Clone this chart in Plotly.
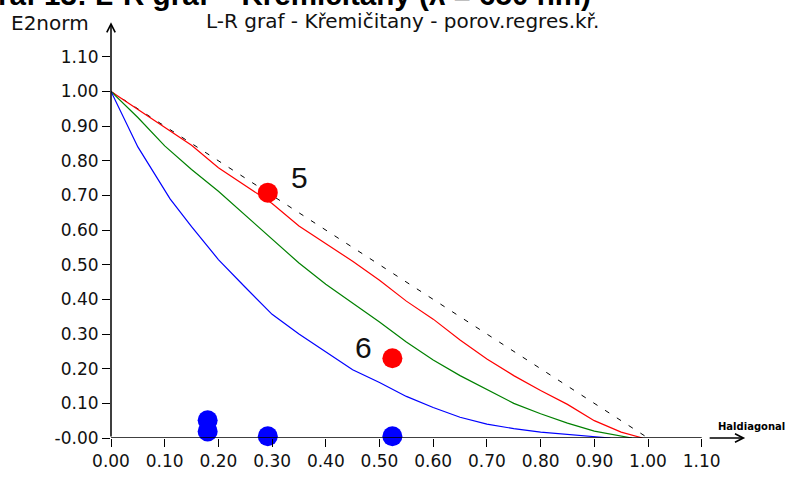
import plotly.graph_objects as go

# ---- data ----
diag_x = [0.0, 1.0]
diag_y = [1.0, 0.0]

red_x = [0, 0.05, 0.1, 0.15, 0.2, 0.25, 0.3, 0.35, 0.4, 0.45, 0.5, 0.55, 0.6, 0.65, 0.7, 0.75, 0.8, 0.85, 0.9, 0.95, 0.99]
red_y = [1.0, 0.948, 0.897, 0.845, 0.78, 0.728, 0.677, 0.612, 0.562, 0.51, 0.455, 0.395, 0.343, 0.283, 0.228, 0.18, 0.137, 0.097, 0.05, 0.017, 0.0]

green_x = [0, 0.05, 0.1, 0.15, 0.2, 0.25, 0.3, 0.35, 0.4, 0.45, 0.5, 0.55, 0.6, 0.65, 0.7, 0.75, 0.8, 0.85, 0.9, 0.95, 0.97]
green_y = [1.0, 0.925, 0.843, 0.775, 0.712, 0.643, 0.575, 0.505, 0.444, 0.39, 0.335, 0.277, 0.225, 0.18, 0.14, 0.1, 0.07, 0.043, 0.02, 0.005, 0.0]

blue_x = [0, 0.025, 0.05, 0.08, 0.11, 0.15, 0.2, 0.25, 0.3, 0.35, 0.4, 0.45, 0.5, 0.55, 0.6, 0.65, 0.7, 0.75, 0.8, 0.85, 0.9, 0.93]
blue_y = [1.0, 0.92, 0.84, 0.765, 0.69, 0.61, 0.515, 0.435, 0.357, 0.3, 0.248, 0.197, 0.16, 0.12, 0.088, 0.06, 0.04, 0.027, 0.017, 0.01, 0.004, 0.0]

red_pts_x = [0.292, 0.524]
red_pts_y = [0.708, 0.23]
red_pts_labels = ["5", "6"]

blue_pts_x = [0.18, 0.18, 0.292, 0.524]
blue_pts_y = [0.051, 0.019, 0.005, 0.005]

x_ticks = [0.0, 0.1, 0.2, 0.3, 0.4, 0.5, 0.6, 0.7, 0.8, 0.9, 1.0, 1.1]
x_ticktext = ["0.00", "0.10", "0.20", "0.30", "0.40", "0.50", "0.60", "0.70", "0.80", "0.90", "1.00", "1.10"]
y_ticks = [0.0, 0.1, 0.2, 0.3, 0.4, 0.5, 0.6, 0.7, 0.8, 0.9, 1.0, 1.1]
y_ticktext = ["-0.00", "0.10", "0.20", "0.30", "0.40", "0.50", "0.60", "0.70", "0.80", "0.90", "1.00", "1.10"]

title_text = "Graf 13: L-R graf – Křemičitany (λ = 650 nm)"
subtitle_text = "L-R graf - Křemičitany - porov.regres.kř."
y_label = "E2norm"
x_label = "Haldiagonal"

# ---- figure ----
W, H = 790, 483
ML, MR, MT, MB = 111, 35, 22, 30
PW, PH = W - ML - MR, H - MT - MB
XSCALE = 537.0  # px per unit
YSCALE = 359.0

fig = go.Figure()

fig.add_trace(go.Scatter(x=diag_x, y=diag_y, mode="lines",
                         line=dict(color="black", width=1, dash="5px,9px"),
                         cliponaxis=False, hoverinfo="skip"))
fig.add_trace(go.Scatter(x=red_x, y=red_y, mode="lines",
                         line=dict(color="#ff0000", width=1.2), cliponaxis=False))
fig.add_trace(go.Scatter(x=green_x, y=green_y, mode="lines",
                         line=dict(color="#008000", width=1.2), cliponaxis=False))
fig.add_trace(go.Scatter(x=blue_x, y=blue_y, mode="lines",
                         line=dict(color="#0000ff", width=1.2), cliponaxis=False))
fig.add_trace(go.Scatter(x=red_pts_x, y=red_pts_y, mode="markers",
                         marker=dict(color="#ff0000", size=20, line=dict(width=0)),
                         cliponaxis=False))
fig.add_trace(go.Scatter(x=blue_pts_x, y=blue_pts_y, mode="markers",
                         marker=dict(color="#0000ff", size=20, line=dict(width=0)),
                         cliponaxis=False))

annotations = []
# point labels
label_shift = [(32, 15), (-29, 11)]
for (px, py, t), (dx, dy) in zip(zip(red_pts_x, red_pts_y, red_pts_labels), label_shift):
    annotations.append(dict(x=px, y=py, xref="x", yref="y", text=t, showarrow=False,
                            xshift=dx, yshift=dy,
                            font=dict(family="Liberation Sans, Arial", size=30, color="#111")))

# axis arrows
annotations.append(dict(x=0, y=1.2, xref="x", yref="y", ax=0, ay=0, axref="x", ayref="y",
                        text="", showarrow=True, arrowhead=5, arrowsize=1.1, arrowwidth=1.5,
                        arrowcolor="black", standoff=0, startstandoff=0))
annotations.append(dict(x=1.181, y=0, xref="x", yref="y", ax=1.112, ay=0, axref="x", ayref="y",
                        text="", showarrow=True, arrowhead=5, arrowsize=1.1, arrowwidth=1.5,
                        arrowcolor="black", standoff=0, startstandoff=0))

def px2paper(px, py):
    return (px - ML) / PW, (H - MB - py) / PH

tx, ty = px2paper(593, 13)
annotations.append(dict(x=tx, y=ty, xref="paper", yref="paper", xanchor="right", yanchor="bottom",
                        text="<b>" + title_text + "</b>", showarrow=False,
                        font=dict(family="Liberation Sans, Arial", size=29.6, color="black")))
sx, sy = px2paper(402, 21)
annotations.append(dict(x=sx, y=sy, xref="paper", yref="paper", xanchor="center", yanchor="middle",
                        text=subtitle_text, showarrow=False,
                        font=dict(family="DejaVu Sans", size=20, color="#111")))
ex, ey = px2paper(50, 23)
annotations.append(dict(x=ex, y=ey, xref="paper", yref="paper", xanchor="center", yanchor="middle",
                        text=y_label, showarrow=False,
                        font=dict(family="DejaVu Sans", size=20, color="#111")))
hx, hy = px2paper(751, 441)
annotations.append(dict(x=hx, y=hy, xref="paper", yref="paper", xanchor="center", yanchor="middle",
                        text="<b>" + x_label + "</b>", showarrow=False,
                        font=dict(family="DejaVu Sans", size=10, color="black")))

shapes = [dict(type="line", xref="x", yref="y", x0=0, y0=0, x1=1.1, y1=0,
               line=dict(color="black", width=1.6))]

axis_common = dict(showgrid=False, zeroline=False, showline=False, ticks="outside",
                   ticklen=8, tickwidth=1.3, tickcolor="black",
                   tickfont=dict(family="DejaVu Sans", size=17, color="#111"))

fig.update_layout(
    width=W, height=H,
    margin=dict(l=ML, r=MR, t=MT, b=MB, pad=0),
    paper_bgcolor="white", plot_bgcolor="white",
    showlegend=False,
    xaxis=dict(range=[0, PW / XSCALE], tickvals=x_ticks, ticktext=x_ticktext, **axis_common),
    yaxis=dict(range=[0, PH / YSCALE], tickvals=y_ticks, ticktext=y_ticktext, **axis_common),
    annotations=annotations,
    shapes=shapes,
)

fig.write_html("out.html")
